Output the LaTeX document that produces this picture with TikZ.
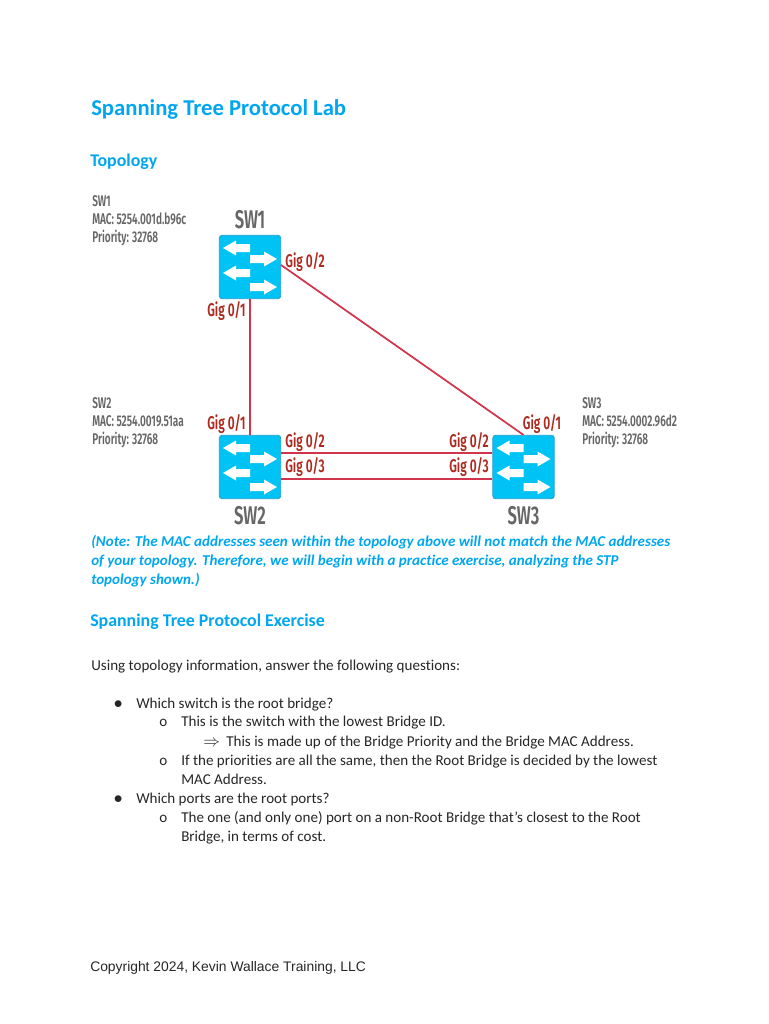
\documentclass[tikz,border=0pt]{standalone}
\usepackage{fontspec}
\usepackage{amssymb}
\setmainfont[Ligatures=NoCommon]{Carlito}
\newfontfamily\labelfont[FakeStretch=0.65]{Fira Sans SemiBold}
\newfontfamily\copyfont{Liberation Sans}
\usetikzlibrary{positioning}
\definecolor{headblue}{HTML}{00A6F0}
\definecolor{switchblue}{HTML}{00C3F5}
\definecolor{switchedge}{HTML}{1E9CD0}
\definecolor{portred}{HTML}{AE2A1E}
\definecolor{linkred}{HTML}{D2344C}
\definecolor{labelgrey}{HTML}{666666}
\definecolor{bodytext}{HTML}{262626}
\tikzset{
  switchbox/.style={draw=switchedge, fill=switchblue, rounded corners=2pt, line width=0.6pt, minimum width=46pt, minimum height=47.5pt, inner sep=0pt},
  link/.style={draw=linkred, line width=1.3pt},
  swname/.style={font=\labelfont\fontsize{19.2}{19.2}\selectfont, text=labelgrey, inner sep=0pt},
  port/.style={font=\labelfont\fontsize{13.8}{13.8}\selectfont, text=portred, inner sep=0pt},
  info/.style={font=\labelfont\fontsize{11.6}{13.5}\selectfont, text=labelgrey, align=left, anchor=north west, inner sep=0pt},
  heading/.style={font=\bfseries\fontsize{13.4}{13.4}\selectfont, text=headblue, anchor=base west, inner sep=0pt},
  note/.style={font=\bfseries\itshape\fontsize{11.28}{11.28}\selectfont, text=headblue, anchor=base west, inner sep=0pt},
  body/.style={font=\fontsize{11.3}{11.3}\selectfont, text=bodytext, anchor=base west, inner sep=0pt},
  pics/swarrows/.style={code={
    \foreach \ya/\dir in {-19/-1, -8/1, 6/-1, 20/1}
      \fill[white, shift={(0,\ya)}, xscale=\dir]
        (0,-4) -- (14,-4) -- (14,-7.5) -- (27,0) -- (14,7.5) -- (14,4) -- (0,4) -- cycle;
  }}
}
\begin{document}
\begin{tikzpicture}[x=0.75pt, y=-0.75pt]
\useasboundingbox (0,0) rectangle (768,1024);
% page headings
\node[heading, font=\bfseries\fontsize{17}{17}\selectfont] (title) at (91,115) {Spanning Tree Protocol Lab};
\node[heading] (topo) at (90,166) {Topology};
% switches
\node[switchbox] (SW1) at (250,267) {};
\node[switchbox] (SW2) at (250,467) {};
\node[switchbox] (SW3) at (523.5,467) {};
\pic at (SW1.center) {swarrows};
\pic at (SW2.center) {swarrows};
\pic at (SW3.center) {swarrows};
\node[swname] (name1) [above=4pt of SW1] {SW1};
\node[swname] (name2) [below=5pt of SW2] {SW2};
\node[swname] (name3) [below=5pt of SW3] {SW3};
% links
\draw[link] (SW1) -- (SW2);
\draw[link] ([yshift=1.5pt]SW1.east) -- (SW3.north);
\draw[link] ([yshift=10.5pt]SW2.east) -- ([yshift=10.5pt]SW3.west);
\draw[link] ([yshift=-9pt]SW2.east) -- ([yshift=-9pt]SW3.west);
% port labels
\node[port] (p11) at (226.5,311) {Gig 0/1};
\node[port] (p12) at (305,262) {Gig 0/2};
\node[port] (p21) at (226.5,424) {Gig 0/1};
\node[port] (p22) at (305,442) {Gig 0/2};
\node[port] (p23) at (305,467) {Gig 0/3};
\node[port] (p31) at (542,424) {Gig 0/1};
\node[port] (p32) at (469,442) {Gig 0/2};
\node[port] (p33) at (469,467) {Gig 0/3};
% switch details
\node[info] (info1) at (92,195) {SW1\\MAC: 5254.001d.b96c\\Priority: 32768};
\node[info] (info2) at (92,397) {SW2\\MAC: 5254.0019.51aa\\Priority: 32768};
\node[info] (info3) at (582,397) {SW3\\MAC: 5254.0002.96d2\\Priority: 32768};
% note
\node[note] (note1) at (91,546) {(Note: The MAC addresses seen within the topology above will not match the MAC addresses};
\node[note] (note2) at (91,565) {of your topology. Therefore, we will begin with a practice exercise, analyzing the STP};
\node[note] (note3) at (91,584) {topology shown.)};
\node[heading] (exer) at (90,626) {Spanning Tree Protocol Exercise};
% questions
\node[body] (intro) at (91,670) {Using topology information, answer the following questions:};
\node[body, scale=1.2] (b1) at (113.5,708.5) {$\bullet$};
\node[body] (q1) at (136,708) {Which switch is the root bridge?};
\node[body] (c1) at (159,726) {o};
\node[body] (a1) at (181,726) {This is the switch with the lowest Bridge ID.};
\node[body, scale=1.15] (d1) at (203,746) {$\Rightarrow$};
\node[body] (a2) at (226,746) {This is made up of the Bridge Priority and the Bridge MAC Address.};
\node[body] (c2) at (159,765) {o};
\node[body] (a3) at (181,765) {If the priorities are all the same, then the Root Bridge is decided by the lowest};
\node[body] (a4) at (181,784) {MAC Address.};
\node[body, scale=1.2] (b2) at (113.5,803.5) {$\bullet$};
\node[body] (q2) at (136,803) {Which ports are the root ports?};
\node[body] (c3) at (159,822) {o};
\node[body] (a5) at (181,822) {The one (and only one) port on a non-Root Bridge that’s closest to the Root};
\node[body] (a6) at (181,841) {Bridge, in terms of cost.};
% footer
\node[body, font=\copyfont\fontsize{10.4}{10.4}\selectfont] (foot) at (90,971) {Copyright 2024, Kevin Wallace Training, LLC};
\end{tikzpicture}
\end{document}
